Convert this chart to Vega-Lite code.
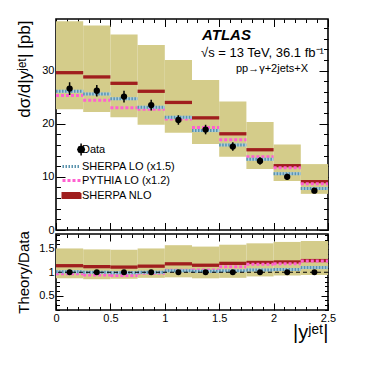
{
  "$schema": "https://vega.github.io/schema/vega-lite/v6.json",
  "padding": {"left": 14, "top": 17, "right": 5, "bottom": 5},
  "bounds": "flush",
  "spacing": 4,
  "datasets": {
    "bins": [
      {"lo": 0.0, "hi": 0.25, "mid": 0.125, "data": 26.6, "dlo": 25.4, "dhi": 27.8, "nlo": 29.6, "blo": 22.7, "bhi": 39.3, "slo": 26.1, "pyt": 25.3, "rnlo": 1.14, "rblo": 0.87, "rbhi": 1.51, "rslo": 1.01, "rpyt": 0.97, "rdat": 1},
      {"lo": 0.25, "hi": 0.5, "mid": 0.375, "data": 26.2, "dlo": 25.1, "dhi": 27.3, "nlo": 28.8, "blo": 22.2, "bhi": 38.5, "slo": 25.6, "pyt": 24.4, "rnlo": 1.12, "rblo": 0.85, "rbhi": 1.49, "rslo": 1.0, "rpyt": 0.94, "rdat": 1},
      {"lo": 0.5, "hi": 0.75, "mid": 0.625, "data": 25.1, "dlo": 24.0, "dhi": 26.2, "nlo": 27.6, "blo": 21.2, "bhi": 36.8, "slo": 24.7, "pyt": 23.0, "rnlo": 1.11, "rblo": 0.86, "rbhi": 1.48, "rslo": 0.99, "rpyt": 0.93, "rdat": 1},
      {"lo": 0.75, "hi": 1.0, "mid": 0.875, "data": 23.5, "dlo": 22.5, "dhi": 24.5, "nlo": 26.1, "blo": 19.8, "bhi": 34.8, "slo": 23.1, "pyt": 22.7, "rnlo": 1.13, "rblo": 0.88, "rbhi": 1.51, "rslo": 1.0, "rpyt": 0.98, "rdat": 1},
      {"lo": 1.0, "hi": 1.25, "mid": 1.125, "data": 20.7, "dlo": 19.8, "dhi": 21.6, "nlo": 24.0, "blo": 18.3, "bhi": 32.0, "slo": 21.2, "pyt": 20.9, "rnlo": 1.18, "rblo": 0.89, "rbhi": 1.58, "rslo": 1.03, "rpyt": 1.04, "rdat": 1},
      {"lo": 1.25, "hi": 1.5, "mid": 1.375, "data": 18.9, "dlo": 18.0, "dhi": 19.8, "nlo": 21.1, "blo": 16.2, "bhi": 28.2, "slo": 18.7, "pyt": 19.3, "rnlo": 1.15, "rblo": 0.87, "rbhi": 1.55, "rslo": 1.02, "rpyt": 1.05, "rdat": 1},
      {"lo": 1.5, "hi": 1.75, "mid": 1.625, "data": 15.7, "dlo": 14.9, "dhi": 16.5, "nlo": 18.1, "blo": 13.8, "bhi": 24.2, "slo": 16.0, "pyt": 17.0, "rnlo": 1.19, "rblo": 0.88, "rbhi": 1.59, "rslo": 1.03, "rpyt": 1.12, "rdat": 1},
      {"lo": 1.75, "hi": 2.0, "mid": 1.875, "data": 13.0, "dlo": 12.3, "dhi": 13.7, "nlo": 15.1, "blo": 11.5, "bhi": 20.3, "slo": 13.3, "pyt": 13.8, "rnlo": 1.21, "rblo": 0.91, "rbhi": 1.62, "rslo": 1.05, "rpyt": 1.17, "rdat": 1},
      {"lo": 2.0, "hi": 2.25, "mid": 2.125, "data": 10.0, "dlo": 9.4, "dhi": 10.6, "nlo": 12.1, "blo": 9.2, "bhi": 16.1, "slo": 10.6, "pyt": 11.7, "rnlo": 1.22, "rblo": 0.93, "rbhi": 1.65, "rslo": 1.06, "rpyt": 1.18, "rdat": 1},
      {"lo": 2.25, "hi": 2.5, "mid": 2.375, "data": 7.4, "dlo": 6.9, "dhi": 7.9, "nlo": 9.1, "blo": 6.8, "bhi": 12.4, "slo": 7.8, "pyt": 8.7, "rnlo": 1.25, "rblo": 0.94, "rbhi": 1.67, "rslo": 1.10, "rpyt": 1.24, "rdat": 1}
    ]
  },
  "config": {
    "view": {"stroke": "black", "strokeWidth": 1.6},
    "font": "Liberation Sans",
    "axis": {"domain": false, "grid": false, "tickColor": "black", "tickWidth": 1, "labelColor": "black", "labelFont": "Liberation Sans", "labelFontSize": 11, "titleFont": "Liberation Sans", "titleFontWeight": "normal", "titleColor": "black", "labelFlush": false, "labelOverlap": false}
  },
  "vconcat": [
    {
      "width": 272,
      "height": 211,
      "data": {"name": "bins"},
      "resolve": {"axis": {"x": "independent", "y": "independent"}},
      "layer": [
        {
          "mark": {"type": "rect", "color": "#d4cc8a"},
          "encoding": {
            "x": {"field": "lo", "type": "quantitative", "scale": {"domain": [0, 2.5], "nice": false},
                  "axis": {"orient": "bottom", "values": [0, 0.5, 1, 1.5, 2, 2.5], "labels": false, "title": null, "tickSize": -7.5}},
            "x2": {"field": "hi"},
            "y": {"field": "blo", "type": "quantitative", "scale": {"domain": [0, 39.7], "nice": false, "zero": false},
                  "axis": {"orient": "left", "values": [0, 10, 20, 30], "tickSize": -9, "labelPadding": 11, "title": "dσ/d|yʲᵉᵗ| [pb]", "titleFontSize": 17, "titleX": -27, "titleY": 1, "titleAlign": "right", "titleBaseline": "alphabetic"}},
            "y2": {"field": "bhi"}
          }
        },
        {
          "mark": {"type": "rule", "strokeWidth": 3.3},
          "encoding": {
            "x": {"field": "lo", "type": "quantitative",
                  "axis": {"orient": "bottom", "values": [0.1,0.2,0.3,0.4,0.6,0.7,0.8,0.9,1.1,1.2,1.3,1.4,1.6,1.7,1.8,1.9,2.1,2.2,2.3,2.4], "labels": false, "title": null, "tickSize": -3.5}},
            "x2": {"field": "hi"},
            "y": {"field": "nlo", "type": "quantitative",
                  "axis": {"orient": "left", "values": [2,4,6,8,12,14,16,18,22,24,26,28,32,34,36,38], "labels": false, "title": null, "tickSize": -4.5}},
            "color": {"datum": "SHERPA NLO",
                      "scale": {"domain": ["Data", "SHERPA LO (x1.5)", "PYTHIA LO (x1.2)", "SHERPA NLO"], "range": ["black", "#5a93ad", "#ff60d0", "#a01e1e"]},
                      "legend": {"orient": "none", "legendX": 10, "legendY": 125, "title": null, "padding": 0, "labelFont": "Liberation Sans", "labelFontSize": 11, "labelColor": "black", "labelOffset": 5, "rowPadding": 1, "symbolSize": 144,
                        "encode": {"symbols": {"update": {
                          "shape": {"signal": "datum.value === 'Data' ? 'M1.6,-1V1M2.15,0L1.99,0.39L1.6,0.55L1.21,0.39L1.05,0L1.21,-0.39L1.6,-0.55L1.99,-0.39Z' : datum.value === 'SHERPA NLO' ? 'M-1.5,-0.42H1.5V0.42H-1.5Z' : 'M-1.5,0H1.5'"},
                          "fill": {"signal": "datum.value === 'Data' ? 'black' : datum.value === 'SHERPA NLO' ? '#a01e1e' : 'transparent'"},
                          "stroke": {"signal": "datum.value === 'Data' ? 'black' : datum.value === 'SHERPA NLO' ? '#d4cc8a' : datum.value === 'PYTHIA LO (x1.2)' ? '#ff60d0' : '#5a93ad'"},
                          "strokeWidth": {"signal": "datum.value === 'Data' ? 1.5 : datum.value === 'SHERPA NLO' ? 2 : 3"},
                          "strokeDash": {"signal": "datum.value === 'PYTHIA LO (x1.2)' ? [3,2] : datum.value === 'SHERPA LO (x1.5)' ? [1.5,1.5] : [1,0]"},
                          "opacity": {"value": 1}
                        }}}}}
          }
        },
        {
          "mark": {"type": "rule", "strokeWidth": 3, "strokeDash": [3, 2]},
          "encoding": {
            "x": {"field": "lo", "type": "quantitative",
                  "axis": {"orient": "top", "values": [0, 0.5, 1, 1.5, 2, 2.5], "labels": false, "title": null, "tickSize": -7.5}},
            "x2": {"field": "hi"},
            "y": {"field": "pyt", "type": "quantitative",
                  "axis": {"orient": "right", "values": [0, 10, 20, 30], "labels": false, "title": null, "tickSize": -9}},
            "color": {"datum": "PYTHIA LO (x1.2)"}
          }
        },
        {
          "mark": {"type": "rule", "strokeWidth": 3, "color": "#a9cde0"},
          "encoding": {
            "x": {"field": "lo", "type": "quantitative",
                  "axis": {"orient": "top", "values": [0.1,0.2,0.3,0.4,0.6,0.7,0.8,0.9,1.1,1.2,1.3,1.4,1.6,1.7,1.8,1.9,2.1,2.2,2.3,2.4], "labels": false, "title": null, "tickSize": -3.5}},
            "x2": {"field": "hi"},
            "y": {"field": "slo", "type": "quantitative",
                  "axis": {"orient": "right", "values": [2,4,6,8,12,14,16,18,22,24,26,28,32,34,36,38], "labels": false, "title": null, "tickSize": -4.5}}
          }
        },
        {
          "mark": {"type": "rule", "strokeWidth": 3, "strokeDash": [1.5, 1.5]},
          "encoding": {
            "x": {"field": "lo", "type": "quantitative", "axis": null},
            "x2": {"field": "hi"},
            "y": {"field": "slo", "type": "quantitative", "axis": null},
            "color": {"datum": "SHERPA LO (x1.5)"}
          }
        },
        {
          "mark": {"type": "rule", "strokeWidth": 1.5, "color": "black"},
          "encoding": {
            "x": {"field": "mid", "type": "quantitative", "axis": null},
            "y": {"field": "dlo", "type": "quantitative", "axis": null},
            "y2": {"field": "dhi"}
          }
        },
        {
          "mark": {"type": "point", "filled": true, "size": 40, "opacity": 1},
          "encoding": {
            "x": {"field": "mid", "type": "quantitative", "axis": null},
            "y": {"field": "data", "type": "quantitative", "axis": null},
            "color": {"datum": "Data"}
          }
        },
        {
          "data": {"values": [{"t": "ATLAS"}]},
          "mark": {"type": "text", "align": "left", "baseline": "alphabetic", "font": "Liberation Sans", "fontSize": 15, "fontWeight": "bold", "fontStyle": "italic", "color": "black"},
          "encoding": {
            "x": {"datum": 1.342, "type": "quantitative", "axis": null},
            "y": {"datum": 35.7, "type": "quantitative", "axis": null},
            "text": {"field": "t"}
          }
        },
        {
          "data": {"values": [{"t": "√s = 13 TeV, 36.1 fb⁻¹"}]},
          "mark": {"type": "text", "align": "left", "baseline": "alphabetic", "font": "Liberation Sans", "fontSize": 13, "color": "black"},
          "encoding": {
            "x": {"datum": 1.333, "type": "quantitative", "axis": null},
            "y": {"datum": 32.5, "type": "quantitative", "axis": null},
            "text": {"field": "t"}
          }
        },
        {
          "data": {"values": [{"t": "pp→γ+2jets+X"}]},
          "mark": {"type": "text", "align": "left", "baseline": "alphabetic", "font": "Liberation Sans", "fontSize": 11, "color": "black"},
          "encoding": {
            "x": {"datum": 1.654, "type": "quantitative", "axis": null},
            "y": {"datum": 29.7, "type": "quantitative", "axis": null},
            "text": {"field": "t"}
          }
        }
      ]
    },
    {
      "width": 272,
      "height": 76,
      "data": {"name": "bins"},
      "resolve": {"axis": {"x": "independent", "y": "independent"}},
      "layer": [
        {
          "mark": {"type": "rect", "color": "#d4cc8a"},
          "encoding": {
            "x": {"field": "lo", "type": "quantitative", "scale": {"domain": [0, 2.5], "nice": false},
                  "axis": {"orient": "bottom", "values": [0, 0.5, 1, 1.5, 2, 2.5], "format": "~g", "tickSize": -7, "labelPadding": 9, "title": "|yʲᵉᵗ|", "titleFontSize": 20, "titleX": 272, "titleY": 28.5, "titleAlign": "right", "titleBaseline": "alphabetic"}},
            "x2": {"field": "hi"},
            "y": {"field": "rblo", "type": "quantitative", "scale": {"domain": [0.19, 1.82], "nice": false, "zero": false},
                  "axis": {"orient": "left", "values": [0.5, 1, 1.5], "format": "~g", "tickSize": -7, "labelPadding": 9, "title": "Theory/Data", "titleFontSize": 15, "titleX": -28, "titleY": 38, "titleAlign": "center", "titleBaseline": "alphabetic"}},
            "y2": {"field": "rbhi"}
          }
        },
        {
          "mark": {"type": "rule", "strokeWidth": 3.3, "color": "#a01e1e"},
          "encoding": {
            "x": {"field": "lo", "type": "quantitative",
                  "axis": {"orient": "bottom", "values": [0.1,0.2,0.3,0.4,0.6,0.7,0.8,0.9,1.1,1.2,1.3,1.4,1.6,1.7,1.8,1.9,2.1,2.2,2.3,2.4], "labels": false, "title": null, "tickSize": -3.5}},
            "x2": {"field": "hi"},
            "y": {"field": "rnlo", "type": "quantitative",
                  "axis": {"orient": "left", "values": [0.2,0.3,0.4,0.6,0.7,0.8,0.9,1.1,1.2,1.3,1.4,1.6,1.7,1.8], "labels": false, "title": null, "tickSize": -3.5}}
          }
        },
        {
          "mark": {"type": "rule", "strokeWidth": 3, "strokeDash": [3, 2], "color": "#ff60d0"},
          "encoding": {
            "x": {"field": "lo", "type": "quantitative",
                  "axis": {"orient": "top", "values": [0, 0.5, 1, 1.5, 2, 2.5], "labels": false, "title": null, "tickSize": -7}},
            "x2": {"field": "hi"},
            "y": {"field": "rpyt", "type": "quantitative",
                  "axis": {"orient": "right", "values": [0.5, 1, 1.5], "labels": false, "title": null, "tickSize": -7}}
          }
        },
        {
          "mark": {"type": "rule", "strokeWidth": 3, "color": "#a9cde0"},
          "encoding": {
            "x": {"field": "lo", "type": "quantitative",
                  "axis": {"orient": "top", "values": [0.1,0.2,0.3,0.4,0.6,0.7,0.8,0.9,1.1,1.2,1.3,1.4,1.6,1.7,1.8,1.9,2.1,2.2,2.3,2.4], "labels": false, "title": null, "tickSize": -3.5}},
            "x2": {"field": "hi"},
            "y": {"field": "rslo", "type": "quantitative",
                  "axis": {"orient": "right", "values": [0.2,0.3,0.4,0.6,0.7,0.8,0.9,1.1,1.2,1.3,1.4,1.6,1.7,1.8], "labels": false, "title": null, "tickSize": -3.5}}
          }
        },
        {
          "mark": {"type": "rule", "strokeWidth": 3, "strokeDash": [1.5, 1.5], "color": "#5a93ad"},
          "encoding": {
            "x": {"field": "lo", "type": "quantitative", "axis": null},
            "x2": {"field": "hi"},
            "y": {"field": "rslo", "type": "quantitative", "axis": null}
          }
        },
        {
          "data": {"values": [{"r": 1}]},
          "mark": {"type": "rule", "strokeWidth": 1.2, "strokeDash": [4, 3], "color": "black"},
          "encoding": {
            "y": {"field": "r", "type": "quantitative", "axis": null}
          }
        },
        {
          "mark": {"type": "point", "filled": true, "size": 35, "opacity": 1, "color": "black"},
          "encoding": {
            "x": {"field": "mid", "type": "quantitative", "axis": null},
            "y": {"field": "rdat", "type": "quantitative", "axis": null}
          }
        }
      ]
    }
  ]
}
